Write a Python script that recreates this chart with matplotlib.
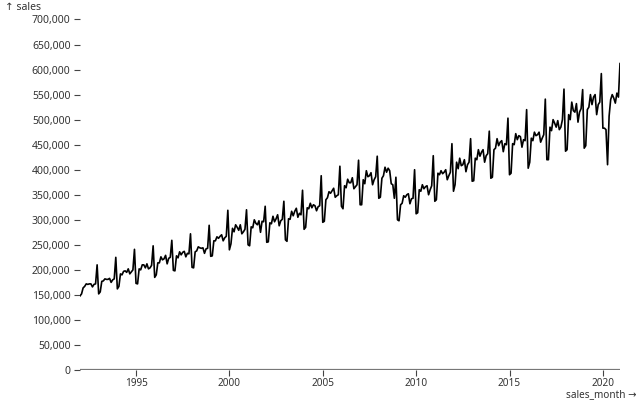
import numpy as np
import matplotlib
matplotlib.use("Agg")
import matplotlib.pyplot as plt
from matplotlib.ticker import FuncFormatter

plt.rcParams["font.family"] = ["Noto Sans", "DejaVu Sans"]

# Aylık satışlar (bin), grafikten okunan tahmini değerler
years = list(range(1992, 2021))
sales_k = {
    1992: [148, 152, 164, 167, 172, 171, 172, 172, 166, 171, 172, 210],
    1993: [152, 156, 177, 178, 182, 181, 181, 183, 175, 180, 182, 225],
    1994: [162, 167, 192, 190, 197, 198, 195, 202, 192, 196, 200, 241],
    1995: [173, 172, 202, 200, 210, 210, 204, 212, 202, 204, 209, 248],
    1996: [185, 190, 214, 214, 226, 220, 222, 229, 212, 223, 225, 259],
    1997: [199, 198, 228, 224, 236, 230, 235, 237, 226, 233, 232, 272],
    1998: [205, 204, 236, 238, 246, 244, 243, 244, 233, 242, 243, 289],
    1999: [227, 228, 258, 258, 266, 263, 267, 270, 258, 264, 267, 319],
    2000: [240, 252, 283, 276, 290, 285, 279, 290, 272, 276, 281, 320],
    2001: [250, 248, 286, 284, 300, 293, 290, 298, 275, 297, 296, 327],
    2002: [255, 256, 294, 292, 307, 296, 302, 310, 288, 298, 301, 337],
    2003: [260, 257, 302, 301, 317, 308, 317, 323, 305, 313, 310, 359],
    2004: [281, 285, 324, 322, 333, 324, 330, 328, 318, 326, 328, 388],
    2005: [295, 297, 340, 344, 356, 353, 358, 363, 345, 348, 350, 407],
    2006: [327, 322, 368, 364, 381, 374, 374, 384, 362, 366, 370, 419],
    2007: [330, 330, 380, 372, 398, 386, 388, 394, 370, 380, 386, 427],
    2008: [343, 345, 383, 388, 405, 395, 403, 398, 372, 370, 343, 385],
    2009: [300, 298, 330, 333, 348, 345, 350, 352, 332, 342, 343, 400],
    2010: [312, 314, 360, 357, 370, 362, 366, 368, 350, 360, 368, 428],
    2011: [337, 340, 393, 390, 398, 392, 395, 400, 380, 388, 395, 452],
    2012: [357, 370, 415, 402, 423, 408, 410, 420, 396, 410, 415, 462],
    2013: [377, 378, 423, 420, 440, 427, 435, 440, 415, 428, 432, 477],
    2014: [383, 385, 440, 443, 462, 448, 455, 458, 436, 452, 450, 503],
    2015: [390, 393, 452, 450, 472, 460, 468, 466, 445, 460, 458, 520],
    2016: [403, 415, 463, 458, 475, 468, 470, 475, 455, 463, 470, 541],
    2017: [420, 420, 485, 478, 500, 493, 485, 498, 480, 485, 500, 561],
    2018: [437, 440, 510, 500, 535, 518, 515, 532, 495, 515, 522, 560],
    2019: [443, 448, 520, 525, 550, 530, 545, 550, 510, 530, 535, 592],
    2020: [483, 483, 480, 410, 507, 540, 550, 543, 533, 553, 545, 612],
}

sales_month = np.array([y + m / 12 for y in years for m in range(12)])
sales = np.array([v for y in years for v in sales_k[y]]) * 1000

x_ticks = [1995, 2000, 2005, 2010, 2015, 2020]
y_ticks = list(range(0, 700001, 50000))

fig = plt.figure(figsize=(6.4, 4), dpi=100)
ax = fig.add_axes([80 / 640, 30 / 400, 540 / 640, 350.5 / 400])

ax.plot(sales_month, sales, color="#000000", lw=1.2, solid_joinstyle="round")
ax.axhline(0, color="#777777", lw=1.6, zorder=1)

ax.set_xlim(sales_month[0], sales_month[-1])
ax.set_ylim(0, 700000)
for s in ax.spines.values():
    s.set_visible(False)

ax.set_xticks(x_ticks)
ax.set_yticks(y_ticks)
ax.yaxis.set_major_formatter(FuncFormatter(lambda v, p: f"{int(v):,}"))
ax.tick_params(axis="both", labelsize=7.5, labelcolor="#333333", color="#444444",
               length=4.3, width=0.8, pad=2.5)
ax.tick_params(axis="x", labelsize=7.2, pad=1.2)

fig.text(5 / 640, 1 - 7 / 400, "↑ sales", fontsize=7.5, color="#333333",
         ha="left", va="center")
fig.text(637 / 640, 1 - 394.5 / 400, "sales_month →", fontsize=7.2, color="#333333",
         ha="right", va="center")

fig.savefig("out.png", dpi=100)
